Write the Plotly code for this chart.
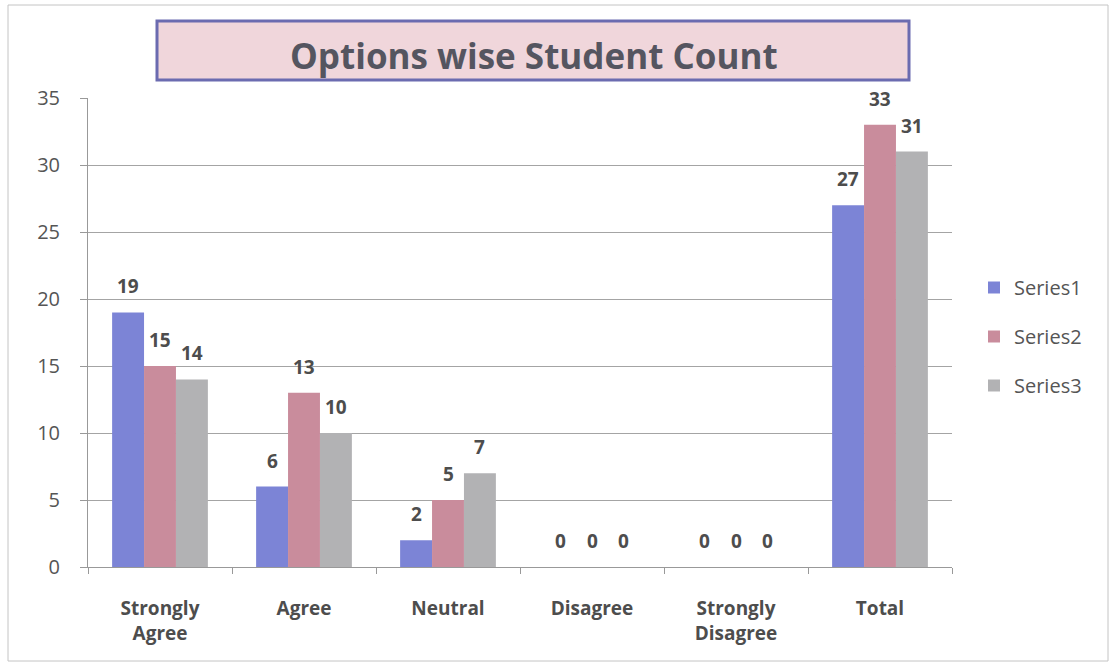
import plotly.graph_objects as go

categories = ["Strongly<br>Agree", "Agree", "Neutral", "Disagree", "Strongly<br>Disagree", "Total"]
series1 = [19, 6, 2, 0, 0, 27]
series2 = [15, 13, 5, 0, 0, 33]
series3 = [14, 10, 7, 0, 0, 31]
series_names = ["Series1", "Series2", "Series3"]
series_colors = ["#7c84d6", "#c98c9c", "#b2b2b4"]

W, H = 1116, 666
L, R, T, B = 88, 164, 98, 99
pw, ph = W - L - R, H - T - B
BARGAP = 0.335

def px_x(x):
    return (x - L) / pw

def px_y(y):
    return (H - B - y) / ph

all_series = [series1, series2, series3]
fig = go.Figure()
for name, vals, col in zip(series_names, all_series, series_colors):
    fig.add_trace(go.Bar(
        x=categories, y=vals, name=name,
        marker=dict(color=col, line=dict(width=0)),
        legendgroup=name,
    ))

# value labels above each bar, placed at the grouped-bar centres
bar_w = (1 - BARGAP) / len(all_series)
labels = []
for si, vals in enumerate(all_series):
    off = (si - (len(all_series) - 1) / 2) * bar_w
    for ci, v in enumerate(vals):
        labels.append(dict(
            x=ci + off, y=v, xref="x", yref="y", text=f"<b>{v}</b>",
            showarrow=False, xanchor="center", yanchor="bottom", yshift=11,
            font=dict(family="Open Sans", size=19, color="#4d4d4d"),
        ))

fig.update_layout(
    width=W, height=H,
    margin=dict(l=L, r=R, t=T, b=B),
    paper_bgcolor="white", plot_bgcolor="white",
    barmode="group", bargap=BARGAP, bargroupgap=0,
    font=dict(family="Open Sans", color="#555555"),
    showlegend=True,
    legend=dict(
        x=px_x(974), y=px_y(268), xanchor="left", yanchor="top",
        font=dict(size=20, color="#555555"), tracegroupgap=20,
        itemwidth=30, bgcolor="rgba(0,0,0,0)",
    ),
    yaxis=dict(
        range=[0, 35], dtick=5, showgrid=True, gridcolor="#a4a4a4", gridwidth=1,
        showline=True, linecolor="#999999", linewidth=1,
        ticks="outside", ticklen=7, tickcolor="#999999", ticklabelstandoff=16,
        tickfont=dict(size=20, color="#555555"), zeroline=False,
    ),
    xaxis=dict(
        showline=True, linecolor="#999999", linewidth=1,
        ticks="outside", ticklen=6, tickcolor="#999999", tickson="boundaries",
        ticklabelstandoff=24,
        tickfont=dict(size=19, color="#4d4d4d", weight="bold"),
    ),
    shapes=[
        dict(type="rect", xref="paper", yref="paper",
             x0=px_x(8), x1=px_x(1108), y0=px_y(661), y1=px_y(5),
             line=dict(color="#c4c4c4", width=1), fillcolor="rgba(0,0,0,0)", layer="below"),
        dict(type="rect", xref="paper", yref="paper",
             x0=px_x(157), x1=px_x(909), y0=px_y(80), y1=px_y(21),
             line=dict(color="#6b6bb0", width=3), fillcolor="#f0d6db"),
    ],
    annotations=labels + [
        dict(text="<b>Options wise Student Count</b>", xref="paper", yref="paper",
             x=px_x(534), y=px_y(55), xanchor="center", yanchor="middle", showarrow=False,
             font=dict(family="Open Sans", size=35, color="#555560")),
    ],
)

fig.write_html("out.html")
